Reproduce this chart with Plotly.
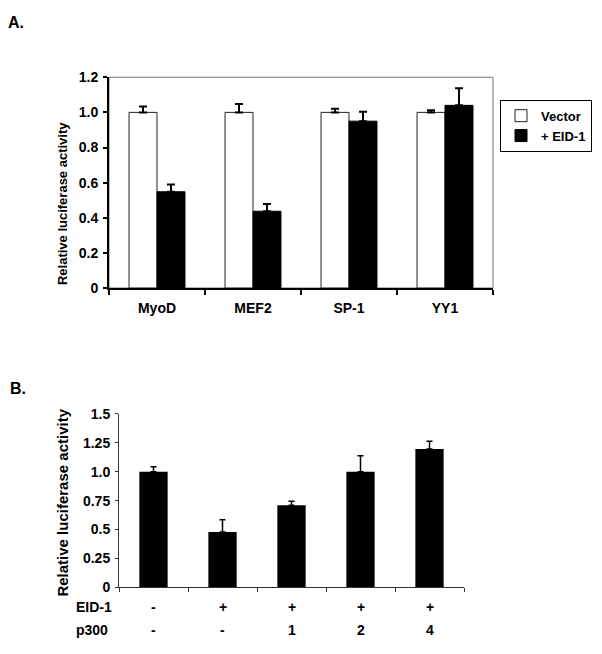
import plotly.graph_objects as go

# ---------------- data ----------------
# Panel A
a_categories = ["MyoD", "MEF2", "SP-1", "YY1"]
a_vector = [1.0, 1.0, 1.0, 1.0]
a_vector_err = [0.033, 0.048, 0.02, 0.012]
a_eid1 = [0.548, 0.437, 0.95, 1.04]
a_eid1_err = [0.041, 0.041, 0.054, 0.097]
a_yticks = [0, 0.2, 0.4, 0.6, 0.8, 1.0, 1.2]
a_yticktext = ["0", "0.2", "0.4", "0.6", "0.8", "1.0", "1.2"]

# Panel B
b_eid1_labels = ["-", "+", "+", "+", "+"]
b_p300_labels = ["-", "-", "1", "2", "4"]
b_categories = ["EID-1 -, p300 -", "EID-1 +, p300 -", "EID-1 +, p300 1",
                "EID-1 +, p300 2", "EID-1 +, p300 4"]
b_values = [1.0, 0.479, 0.711, 1.0, 1.197]
b_err = [0.043, 0.106, 0.034, 0.138, 0.065]
b_yticks = [0, 0.25, 0.5, 0.75, 1.0, 1.25, 1.5]
b_yticktext = ["0", "0.25", "0.5", "0.75", "1.0", "1.25", "1.5"]

FONT = "Arial, Liberation Sans, sans-serif"
W, H = 602, 654

fig = go.Figure()

fig.add_trace(go.Bar(
    x=a_categories, y=a_vector, name="Vector",
    marker=dict(color="white", line=dict(color="#222222", width=1)),
    error_y=dict(type="data", symmetric=False, array=a_vector_err,
                 arrayminus=[0] * len(a_vector_err),
                 color="black", thickness=2, width=4),
    xaxis="x", yaxis="y",
))
fig.add_trace(go.Bar(
    x=a_categories, y=a_eid1, name="+ EID-1",
    marker=dict(color="black", line=dict(color="black", width=1)),
    error_y=dict(type="data", symmetric=False, array=a_eid1_err,
                 arrayminus=[0] * len(a_eid1_err),
                 color="black", thickness=2, width=4),
    xaxis="x", yaxis="y",
))
fig.add_trace(go.Bar(
    x=b_categories, y=b_values, name="B", showlegend=False,
    width=0.41,
    marker=dict(color="black", line=dict(color="black", width=0)),
    error_y=dict(type="data", symmetric=False, array=b_err,
                 arrayminus=[0] * len(b_err),
                 color="black", thickness=1.5, width=3),
    xaxis="x2", yaxis="y2",
))

bold = dict(family=FONT, color="black", weight="bold")

fig.update_layout(
    width=W, height=H,
    margin=dict(l=0, r=0, t=0, b=0),
    paper_bgcolor="white", plot_bgcolor="white",
    barmode="group", bargap=0.417, bargroupgap=0,
    font=dict(family=FONT, color="black"),
    showlegend=True,
    legend=dict(
        x=592 / W, y=1 - 94 / H, xanchor="right", yanchor="top",
        bordercolor="black", borderwidth=1, bgcolor="white",
        font=dict(size=13, **bold), itemwidth=30, tracegroupgap=0,
    ),
    xaxis=dict(
        domain=[109 / W, 493 / W], anchor="y",
        showline=True, linecolor="black", linewidth=2,
        ticks="outside", ticklen=5, tickwidth=2, tickcolor="black",
        tickson="boundaries", tickfont=dict(size=14, **bold),
        ticklabelstandoff=6,
        showgrid=False, zeroline=False, fixedrange=True,
    ),
    yaxis=dict(
        domain=[1 - 287 / H, 1 - 71 / H], anchor="x",
        range=[0, 1.2], tickvals=a_yticks, ticktext=a_yticktext,
        showline=True, linecolor="black", linewidth=2,
        ticks="outside", ticklen=4, tickwidth=2, tickcolor="black",
        tickfont=dict(size=14, **bold), ticklabelstandoff=2,
        showgrid=False, zeroline=False,
    ),
    xaxis2=dict(
        domain=[119 / W, 464 / W], anchor="y2",
        showline=True, linecolor="#333333", linewidth=1,
        ticks="outside", ticklen=4, tickwidth=1, tickcolor="#333333",
        tickson="boundaries", showticklabels=False,
        showgrid=False, zeroline=False,
    ),
    yaxis2=dict(
        domain=[1 - 594 / H, 1 - 416 / H], anchor="x2",
        range=[0, 1.5], tickvals=b_yticks, ticktext=b_yticktext,
        showline=True, linecolor="#333333", linewidth=1,
        ticks="outside", ticklen=3, tickwidth=1, tickcolor="#333333",
        tickfont=dict(size=14, **bold), ticklabelstandoff=2,
        showgrid=False, zeroline=False,
    ),
)

# thin grey frame around panel A plot area
fig.add_shape(type="rect", xref="x domain", yref="y domain",
              x0=0, x1=1, y0=0, y1=1,
              line=dict(color="#777777", width=1), layer="below")

annotations = [
    dict(text="A.", x=6 / W, y=1 - 15 / H, xref="paper", yref="paper",
         xanchor="left", yanchor="middle", showarrow=False,
         font=dict(size=16, **bold)),
    dict(text="B.", x=8 / W, y=1 - 390 / H, xref="paper", yref="paper",
         xanchor="left", yanchor="middle", showarrow=False,
         font=dict(size=16, **bold)),
    dict(text="Relative luciferase activity", textangle=-90,
         x=62 / W, y=1 - 201 / H, xref="paper", yref="paper",
         xanchor="center", yanchor="middle", showarrow=False,
         font=dict(size=13, **bold)),
    dict(text="Relative luciferase activity", textangle=-90,
         x=63 / W, y=1 - 507 / H, xref="paper", yref="paper",
         xanchor="center", yanchor="middle", showarrow=False,
         font=dict(size=15, **bold)),
    dict(text="EID-1", x=74 / W, y=1 - 614 / H, xref="paper", yref="paper",
         xanchor="left", yanchor="middle", showarrow=False,
         font=dict(size=14, **bold)),
    dict(text="p300", x=74 / W, y=1 - 638 / H, xref="paper", yref="paper",
         xanchor="left", yanchor="middle", showarrow=False,
         font=dict(size=14, **bold)),
]
for cat, e_lab, p_lab in zip(b_categories, b_eid1_labels, b_p300_labels):
    annotations.append(dict(text=e_lab, x=cat, y=1 - 614 / H, xref="x2",
                            yref="paper", xanchor="center", yanchor="middle",
                            showarrow=False, font=dict(size=14, **bold)))
    annotations.append(dict(text=p_lab, x=cat, y=1 - 638 / H, xref="x2",
                            yref="paper", xanchor="center", yanchor="middle",
                            showarrow=False, font=dict(size=14, **bold)))
fig.update_layout(annotations=annotations)

fig.write_html(
    "out.html",
    config={"displayModeBar": False},
    post_script="document.body.style.margin='0';document.body.style.overflow='hidden';",
)
